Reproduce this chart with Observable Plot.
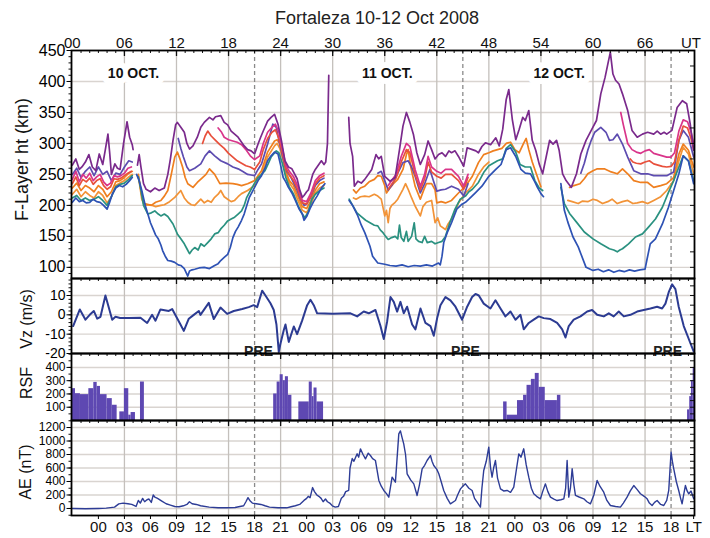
<!DOCTYPE html>
<html><head><meta charset="utf-8">
<script src="https://cdn.jsdelivr.net/npm/d3@7"></script>
<script src="https://cdn.jsdelivr.net/npm/@observablehq/plot@0.6"></script>
<style>
body{margin:0;background:#fff;}
#chart{position:relative;width:710px;height:538px;overflow:hidden;}
#chart svg{position:absolute;left:0;display:block;overflow:visible;}
</style></head><body><div id="chart"></div>
<script>
// ---------------- DATA ----------------
const title = "Fortaleza 10-12 Oct 2008";
const utTicks = [0,6,12,18,24,30,36,42,48,54,60,66,71.3];
const utLabels = ["00","06","12","18","24","30","36","42","48","54","60","66","UT"];
const ltTicks = [3,6,9,12,15,18,21,24,27,30,33,36,39,42,45,48,51,54,57,60,63,66,69,71.6];
const ltLabels = ["00","03","06","09","12","15","18","21","00","03","06","09","12","15","18","21","00","03","06","09","12","15","18","LT"];
const gridHours = [6,12,18,24,30,36,42,48,54,60,66];
const dashHours = [21,45,69];
const preHours = [21.45,45.3,68.6];
const preLabel = "PRE";
const dayLabels = ["10 OCT.","11 OCT.","12 OCT."];
const dayLabelHours = [7.05,36.3,56.1];

const fTicks = [100,150,200,250,300,350,400,450];
const vzTicks = [-20,-10,0,10];
const rsfTicks = [100,200,300,400];
const aeTicks = [0,200,400,600,800,1000,1200];

// F-layer iso-frequency heights (UT hour, km); null = gap
const purple = [[0,265],[0.4,275],[0.8,258],[1.1,262],[1.5,270],[1.9,282],[2.3,262],[2.7,256],[3.1,283],[3.5,266],[3.8,290],[4.1,315],[4.3,285],[4.5,250],[4.9,267],[5.2,260],[5.5,258],[5.9,300],[6.3,335],[6.6,310],[6.9,298],[7.0,290],[7.2,null],
 [7.5,265],[7.7,282],[7.9,262],[8.2,235],[8.5,226],[9.0,222],[9.5,228],[10.0,224],[10.6,228],[11.0,250],[11.3,275],[11.6,305],[11.9,330],[12.1,334],[12.5,326],[12.9,318],[13.2,300],[13.5,291],[13.9,296],[14.4,310],[14.8,326],[15.2,334],[15.8,342],[16.2,338],[16.5,343],[17.1,345],[17.5,334],[17.9,330],[18.3,320],[18.7,315],[19.1,310],[19.5,302],[19.8,296],[20.2,290],[20.6,288],[21.0,283],[21.4,299],[21.7,310],[22.0,320],[22.5,336],[22.9,342],[23.3,347],[23.7,331],[24.1,304],[24.5,272],[24.9,262],[25.3,259],[25.9,243],[26.2,225],[26.5,213],[26.7,216],[27.0,222],[27.2,225],[27.5,240],[27.7,250],[28.0,258],[28.2,262],[28.5,268],[28.7,272],[29.0,266],[29.2,270],[29.4,300],[29.55,410],[29.6,null],
 [31.85,342],[32.0,300],[32.3,279],[32.5,231],[32.9,239],[33.3,236],[33.7,242],[34.1,250],[34.5,258],[35.0,282],[35.3,275],[35.6,279],[36.0,247],[36.6,239],[37.2,245],[37.7,290],[38.1,328],[38.5,350],[38.9,334],[39.3,315],[39.7,285],[40.1,266],[40.6,282],[41.0,304],[41.4,290],[41.8,275],[42.2,282],[42.6,285],[43.0,279],[43.4,288],[43.7,285],[44.1,288],[44.5,279],[45.1,263],[45.5,293],[46.1,290],[46.5,288],[46.8,285],[47.2,295],[47.6,301],[48.2,298],[48.8,309],[49.2,296],[49.6,323],[50.0,371],[50.3,387],[50.7,339],[51.1,306],[51.5,323],[51.9,342],[52.2,337],[52.6,353],[53.0,305],[53.4,289],[53.8,267],[54.2,251],[54.6,278],[55.0,305],[55.4,299],[55.8,305],[56.1,289],[56.5,251],[56.9,240],[57.5,229],[58.1,251],[58.6,283],[59.2,305],[59.8,321],[60.4,337],[60.9,380],[61.4,407],[61.8,434],[62.0,447],[62.3,412],[62.6,402],[63.0,396],[63.4,380],[64.0,353],[64.5,321],[65.1,310],[65.7,315],[66.3,318],[67.0,315],[67.4,320],[67.8,315],[68.2,318],[68.5,315],[69.1,321],[69.7,358],[70.3,369],[70.8,364],[71.2,332],[71.6,289]];

const pink = [[0,242],[0.4,255],[0.8,238],[1.2,250],[1.6,244],[2.0,252],[2.4,240],[2.8,246],[3.2,250],[3.6,238],[4.0,232],[4.4,236],[4.8,248],[5.2,246],[5.6,248],[6.0,252],[6.4,260],[6.8,262],[7.0,null],
 [16.8,325],[17.2,318],[17.5,310],[18.0,306],[18.5,304],[19.0,302],[19.5,298],[20.0,290],[20.5,280],[21.0,274],[21.6,280],[22.0,300],[22.5,318],[23.0,326],[23.4,331],[23.8,318],[24.2,292],[24.6,265],[25.0,255],[25.5,246],[26.0,230],[26.5,208],[27.0,206],[27.5,220],[28.0,240],[28.5,248],[29.0,252],[29.3,null],
 [36.4,232],[36.8,240],[37.3,250],[37.9,279],[38.5,300],[38.9,295],[39.5,258],[40.1,231],[40.6,250],[41.0,279],[41.4,262],[42.0,255],[42.5,252],[43.0,258],[43.7,258],[44.5,247],[45.1,231],[45.6,250],[46.0,null],
 [63.2,350],[63.5,330],[64.0,300],[64.5,290],[65.0,286],[65.5,284],[66.0,288],[66.5,290],[67.0,284],[67.5,282],[68.0,280],[68.5,278],[69.0,278],[69.4,285],[69.9,320],[70.4,338],[70.9,335],[71.3,318],[71.6,300]];

const red = [[0,235],[0.4,246],[0.8,232],[1.2,242],[1.6,238],[2.0,244],[2.4,234],[2.8,240],[3.2,243],[3.6,232],[4.0,226],[4.4,230],[4.8,243],[5.2,242],[5.6,244],[6.0,248],[6.4,252],[6.8,255],[7.0,null],
 [15.0,300],[15.3,312],[15.6,320],[16.0,312],[16.5,305],[17.0,298],[17.5,292],[18.0,284],[18.5,278],[19.0,272],[19.5,268],[20.0,264],[20.5,262],[21.0,258],[21.6,270],[22.0,290],[22.5,308],[23.0,318],[23.4,322],[23.8,308],[24.2,285],[24.6,260],[25.0,250],[25.5,240],[26.0,225],[26.5,204],[27.0,202],[27.5,215],[28.0,235],[28.5,244],[29.0,248],[29.3,null],
 [36.4,226],[36.8,234],[37.3,244],[37.9,270],[38.5,290],[38.9,285],[39.5,250],[40.1,225],[40.6,243],[41.0,270],[41.4,254],[42.0,247],[42.5,244],[43.0,250],[43.7,250],[44.5,240],[45.1,226],[45.6,245],[46.0,null],
 [64.3,275],[64.6,270],[65.0,268],[65.5,267],[66.0,270],[66.5,272],[67.0,267],[67.5,265],[68.0,263],[68.5,262],[69.0,263],[69.4,270],[69.9,305],[70.4,328],[70.9,325],[71.3,308],[71.6,290]];

const violet = [[0,250],[0.5,260],[1.0,245],[1.5,255],[2.0,262],[2.5,248],[3.0,262],[3.5,250],[4.0,255],[4.5,240],[5.0,252],[5.5,250],[6.0,262],[6.5,272],[6.9,270],[7.0,null],
 [12.2,308],[12.5,292],[12.8,278],[13.2,262],[13.5,256],[14.1,260],[14.8,267],[15.3,280],[15.8,288],[16.4,280],[17.1,272],[17.9,267],[18.5,262],[19.1,259],[19.6,255],[20.2,250],[20.6,249],[21.0,248],[21.4,258],[21.8,267],[22.5,299],[23.1,331],[23.5,326],[23.9,299],[24.3,275],[24.7,255],[25.2,245],[25.8,228],[26.3,210],[26.7,200],[27.0,202],[27.5,214],[28.0,232],[28.5,240],[29.0,244],[29.3,null],
 [35.2,252],[35.6,255],[36.0,240],[36.4,225],[36.8,232],[37.5,252],[38.1,269],[38.7,272],[39.1,262],[39.5,247],[40.1,220],[40.6,235],[41.2,258],[41.6,240],[42.0,223],[42.5,225],[43.0,226],[43.7,231],[44.5,226],[45.1,215],[45.6,235],[46.0,null],
 [58.6,252],[59.0,268],[59.4,289],[59.8,305],[60.2,318],[60.9,326],[61.5,318],[61.9,305],[62.3,306],[62.8,315],[63.4,299],[64.0,278],[64.7,256],[65.5,251],[66.3,251],[67.0,248],[67.8,248],[68.5,248],[69.3,254],[69.9,305],[70.4,321],[71.0,310],[71.6,278]];

const orange1 = [[0,228],[0.5,236],[1.0,224],[1.5,232],[2.0,228],[2.5,222],[3.0,232],[3.5,226],[4.0,214],[4.5,222],[5.0,238],[5.5,240],[6.0,245],[6.5,252],[6.9,255],[7.0,null],
 [7.6,250],[8.0,215],[8.3,203],[9.1,200],[9.6,205],[10.2,208],[10.6,215],[11.0,224],[11.4,250],[11.8,278],[12.1,286],[12.4,275],[12.7,262],[13.0,245],[13.3,235],[13.9,229],[14.4,237],[15.0,245],[15.4,250],[15.8,259],[16.4,250],[17.0,235],[17.7,236],[18.5,235],[19.0,234],[19.5,232],[20.2,235],[21.0,240],[21.8,256],[22.5,286],[23.3,304],[23.6,306],[23.9,300],[24.3,280],[24.6,255],[25.0,240],[25.5,232],[26.0,215],[26.5,198],[27.0,195],[27.5,208],[28.0,225],[28.5,235],[29.0,238],[29.3,null],
 [32.4,225],[32.7,220],[33.2,228],[33.7,231],[34.2,238],[34.8,242],[35.2,248],[35.6,247],[36.0,232],[36.2,220],[36.6,228],[37.0,235],[37.5,242],[38.1,258],[38.5,282],[38.7,290],[39.0,262],[39.5,231],[40.1,210],[40.5,225],[40.8,235],[41.4,235],[41.8,225],[42.0,204],[42.5,206],[43.0,204],[43.7,208],[44.5,220],[45.3,231],[46.1,247],[46.8,269],[47.4,282],[48.0,285],[48.5,288],[49.0,290],[49.5,292],[50.0,300],[50.5,302],[51.0,290],[51.5,285],[52.0,300],[52.3,308],[52.6,290],[53.0,270],[53.5,250],[54.0,230],[54.3,null],
 [57.3,229],[57.8,232],[58.5,235],[59.0,243],[59.4,251],[60.0,256],[60.5,259],[61.3,259],[62.1,254],[62.8,251],[63.4,259],[64.0,251],[64.7,240],[65.5,237],[66.3,237],[67.0,229],[67.8,232],[68.5,235],[69.3,245],[69.9,283],[70.4,299],[71.0,289],[71.6,262]];

const orange2 = [[0,218],[0.5,226],[1.0,214],[1.5,222],[2.0,216],[2.5,212],[3.0,222],[3.5,216],[4.0,204],[4.5,214],[5.0,232],[5.5,236],[6.0,240],[6.5,246],[6.9,250],[7.0,null],
 [7.6,248],[8.0,210],[8.3,200],[9.0,201],[9.6,198],[10.2,200],[10.6,201],[11.2,206],[11.8,213],[12.5,224],[12.9,212],[13.3,205],[13.7,201],[14.1,200],[14.8,210],[15.2,204],[15.6,208],[16.0,205],[16.4,213],[16.8,218],[17.1,224],[17.5,214],[17.9,210],[18.3,206],[18.7,208],[19.1,214],[19.5,219],[20.2,224],[20.6,228],[21.0,232],[21.8,250],[22.5,278],[23.3,296],[23.6,300],[23.9,292],[24.3,272],[24.6,250],[25.0,236],[25.5,226],[26.0,208],[26.5,192],[27.0,188],[27.5,202],[28.0,220],[28.5,228],[29.0,232],[29.3,null],
 [32.4,212],[32.7,210],[33.2,214],[33.7,215],[34.2,214],[34.8,218],[35.2,215],[35.6,210],[36.0,183],[36.2,192],[36.4,172],[36.6,195],[36.8,200],[37.2,205],[37.5,210],[38.1,226],[38.4,235],[38.7,226],[39.1,212],[39.5,199],[40.1,183],[40.4,198],[40.8,205],[41.4,208],[41.8,172],[42.1,180],[42.4,167],[43.0,161],[43.3,170],[43.7,178],[44.1,190],[44.5,204],[45.3,220],[46.1,231],[46.8,250],[47.4,262],[48.0,270],[48.4,null],
 [57.1,208],[57.6,206],[58.3,203],[58.8,207],[59.4,206],[60.0,210],[60.5,208],[61.1,203],[61.7,206],[62.2,210],[62.8,203],[63.4,206],[64.0,208],[64.6,203],[65.1,204],[65.7,206],[66.3,203],[67.0,208],[67.8,214],[68.5,224],[69.3,240],[69.9,272],[70.4,294],[71.0,283],[71.6,251]];

const teal = [[0,212],[0.5,216],[1.0,208],[1.5,212],[2.0,208],[2.5,210],[3.0,214],[3.5,208],[4.0,200],[4.5,214],[5.0,230],[5.5,234],[6.0,236],[6.5,242],[6.9,248],[7.0,null],
 [7.6,246],[7.9,225],[8.2,200],[8.7,186],[9.1,188],[9.5,191],[9.9,186],[10.2,183],[10.6,186],[11.0,182],[11.6,170],[12.1,154],[12.5,146],[12.9,138],[13.2,130],[13.5,122],[13.8,128],[14.1,132],[14.5,128],[14.8,138],[15.2,134],[15.6,140],[16.0,146],[16.4,154],[16.8,156],[17.1,162],[17.5,168],[17.9,175],[18.3,178],[18.7,181],[19.1,186],[19.5,191],[19.8,200],[20.1,213],[20.6,226],[21.0,236],[21.4,245],[21.8,250],[22.2,256],[22.6,268],[22.9,278],[23.5,288],[23.8,285],[24.2,268],[24.6,245],[25.0,230],[25.5,218],[26.0,200],[26.5,186],[26.8,180],[27.2,190],[27.6,210],[28.0,218],[28.5,224],[29.0,228],[29.3,null],
 [31.9,210],[32.3,200],[32.8,188],[33.3,182],[33.8,176],[34.3,172],[34.8,168],[35.2,167],[35.5,160],[35.8,156],[36.1,150],[36.4,145],[36.8,148],[37.2,150],[37.5,146],[37.7,168],[37.9,148],[38.2,142],[38.5,158],[38.7,142],[39.1,150],[39.4,172],[39.6,146],[39.9,142],[40.3,140],[40.6,150],[40.9,140],[41.4,142],[41.8,138],[42.2,140],[42.6,142],[43.0,150],[43.5,172],[44.1,194],[44.7,210],[45.3,215],[45.7,222],[46.1,226],[46.8,237],[47.4,253],[48.0,264],[48.5,268],[49.0,272],[49.6,275],[50.0,292],[50.5,298],[51.1,286],[51.6,266],[52.2,262],[52.8,262],[53.3,240],[53.8,228],[54.2,224],[54.4,null],
 [56.3,229],[56.7,203],[57.3,187],[58.1,173],[59.0,157],[60.0,146],[60.9,138],[61.4,134],[61.9,130],[62.4,128],[62.8,125],[63.1,128],[63.4,130],[64.1,138],[64.9,149],[65.7,154],[66.4,165],[67.2,178],[68.0,197],[68.7,221],[69.3,240],[69.9,262],[70.4,280],[71.0,272],[71.6,240]];

const blue = [[0,205],[0.4,212],[0.8,206],[1.2,208],[1.6,204],[2.0,205],[2.4,210],[2.8,206],[3.2,205],[3.6,200],[4.0,194],[4.3,205],[4.6,218],[5.0,228],[5.4,232],[5.8,230],[6.2,234],[6.6,240],[6.9,245],[7.0,null],
 [7.4,250],[7.7,240],[8.0,224],[8.4,200],[8.7,186],[9.0,172],[9.3,162],[9.6,152],[9.9,146],[10.2,136],[10.4,127],[10.7,118],[11.0,111],[11.4,110],[11.8,108],[12.2,104],[12.5,103],[12.9,98],[13.1,92],[13.3,86],[13.5,94],[13.8,96],[14.1,97],[14.6,99],[15.2,100],[15.8,98],[16.4,103],[16.8,106],[17.1,111],[17.5,116],[17.9,121],[18.2,132],[18.5,148],[18.8,158],[19.1,165],[19.5,176],[19.8,186],[20.1,200],[20.4,213],[21.0,229],[21.4,240],[21.8,248],[22.2,260],[22.5,272],[22.9,280],[23.3,286],[23.7,283],[24.0,265],[24.3,245],[24.6,238],[24.9,229],[25.3,220],[25.7,208],[26.1,195],[26.5,186],[26.7,176],[27.0,182],[27.4,195],[27.8,206],[28.2,215],[28.7,228],[29.1,235],[29.3,null],
 [31.9,208],[32.3,200],[32.9,183],[33.3,168],[33.7,156],[34.3,134],[34.6,118],[35.2,107],[36.0,105],[36.6,103],[37.3,102],[38.0,104],[38.7,101],[39.4,103],[40.1,102],[40.8,104],[41.5,102],[42.2,107],[42.4,104],[42.6,118],[42.8,140],[43.2,156],[43.7,172],[44.3,194],[44.9,202],[45.3,205],[45.7,210],[46.5,221],[47.2,231],[48.0,247],[48.8,258],[49.4,266],[50.0,290],[50.5,293],[51.1,279],[51.7,258],[52.2,252],[52.8,251],[53.3,238],[53.6,229],[54.0,219],[54.3,214],[54.5,null],
 [56.3,235],[56.7,192],[57.1,173],[57.7,149],[58.3,133],[58.6,122],[59.2,100],[60.0,95],[60.6,97],[61.2,93],[61.8,96],[62.4,92],[63.0,95],[63.6,93],[64.2,96],[64.8,94],[65.4,96],[66.0,97],[66.2,111],[66.6,138],[67.2,146],[68.0,170],[68.7,197],[69.3,224],[69.9,251],[70.4,280],[71.0,272],[71.6,235]];

// Vertical drift Vz (UT hour, m/s)
const vz = [[0.09,-5.8],[0.86,2.8],[1.51,-2.5],[2.0,0],[2.47,2],[2.86,-2],[3.24,-1],[3.81,10],[4.59,-2.5],[4.97,-1],[5.5,-1.6],[6.5,-1.6],[7.85,-1.5],[8.62,-4.2],[9.19,0],[9.58,-3],[10.15,2.8],[11.11,2],[11.5,3],[12.46,-5],[12.84,-8.3],[13.42,-2],[13.99,0],[14.57,2],[14.76,0],[15.72,6.2],[16.3,-2.2],[17.07,3.8],[17.84,0.5],[18.6,2],[19.57,3],[20.33,4],[20.9,5],[21.3,4],[21.87,12.5],[22.25,10],[22.83,6],[23.21,2.5],[23.52,-5],[23.79,-19.2],[23.98,-15],[24.36,-8],[24.56,-5],[24.94,-14],[25.52,-6],[25.9,-10],[26.48,-3],[27.06,5],[27.44,7.8],[27.82,5],[28.21,0.8],[30,0.6],[32.05,0.8],[32.82,-0.8],[33.58,1.7],[34.16,0.8],[34.93,2.5],[35.51,-5.8],[35.89,-12.5],[36.28,-3.3],[36.66,9.2],[37.04,6.7],[37.43,1.7],[37.81,6.7],[38.19,0.8],[38.58,4.2],[39.16,-5],[39.54,-7.5],[40.12,3.3],[40.69,-4.2],[41.27,-5.8],[41.65,-10.8],[42.04,-1.7],[42.42,5],[43.0,9.2],[43.57,7.5],[44.15,4.2],[44.92,-2.5],[45.5,4.2],[46.07,9.2],[46.46,10.8],[46.84,10],[47.41,5.8],[48.18,3.3],[48.76,7.5],[49.34,3.3],[49.91,-0.8],[50.49,1.7],[51.07,-2.5],[51.64,0],[52.02,-7.5],[52.6,-4.2],[53.17,-2.5],[53.75,-0.8],[54.33,-1.7],[55.1,-2.2],[55.87,-4.2],[56.45,-7.5],[56.83,-11.7],[57.21,-5.8],[57.78,-2.5],[58.56,-0.8],[59.33,1.7],[59.9,2.5],[60.48,0],[61.24,-0.8],[61.82,0.8],[62.39,-0.8],[62.97,1.7],[63.55,-0.8],[64.32,0],[65.09,1.7],[65.85,2.5],[66.62,3.3],[67.39,4.2],[67.97,3.3],[68.35,5.8],[68.73,11.7],[69.12,15.8],[69.5,13.3],[69.88,4.2],[70.46,-5.8],[71.04,-12.5],[71.61,-19]];

// RSF occurrence histogram (bin start UT, bin end UT, value)
const rsfStart = [0,0.36,0.93,1.9,2.47,2.86,3.24,4.0,4.6,5.47,6.0,6.5,6.77,7.85, 23.2,23.6,23.95,24.3,24.55,24.9, 26.1,27.3,27.65,27.85,28.2, 49.7,50.1,51.3,52.0,52.4,52.9,53.35,53.8,54.5,55.9, 70.9,71.15,71.35,71.55];
const rsfEnd   = [0.36,0.93,1.9,2.47,2.86,3.24,4.0,4.6,5.16,6.0,6.5,6.77,7.27,8.3, 23.6,23.95,24.3,24.55,24.9,25.3, 27.3,27.65,27.85,28.2,28.95, 50.1,51.3,52.0,52.4,52.9,53.35,53.8,54.5,55.9,56.3, 71.15,71.35,71.55,71.7];
const rsfValue = [240,202,195,240,287,257,195,165,115,65,240,40,60,290, 200,290,345,300,330,190, 140,290,180,245,140, 140,40,150,190,265,310,355,250,150,190, 80,180,300,400];

// AE index (UT hour, nT)
const ae = [[0,0],[1.5,-5],[3,0],[3.9,5],[4.86,20],[5.35,69],[5.85,80],[6.4,70],[6.84,60],[7.34,30],[7.6,120],[7.83,80],[8.1,150],[8.33,100],[8.6,130],[8.83,140],[9.1,90],[9.32,200],[9.5,170],[9.82,150],[10.31,110],[10.81,70],[11.3,50],[11.8,30],[12.3,25],[12.8,40],[13.2,60],[13.49,100],[13.8,70],[14.28,60],[14.78,40],[15.77,20],[16.8,10],[17.76,10],[18.75,15],[19.74,40],[20.0,100],[20.24,160],[20.5,110],[20.74,80],[21.2,70],[21.73,60],[22.2,40],[22.72,20],[23.71,10],[24.7,10],[25.2,25],[25.7,40],[26.2,60],[26.69,120],[27.0,150],[27.18,180],[27.4,160],[27.68,310],[27.9,250],[28.18,200],[28.4,180],[28.67,150],[28.9,100],[29.17,140],[29.4,100],[29.66,80],[29.96,40],[30.3,20],[30.66,30],[31.0,150],[31.25,180],[31.5,250],[31.85,270],[32.0,600],[32.25,740],[32.45,700],[32.82,810],[33.0,760],[33.2,884],[33.5,800],[33.78,736],[34.1,820],[34.35,785],[34.6,740],[34.93,711],[35.32,415],[35.6,330],[35.89,267],[36.2,220],[36.47,168],[36.85,464],[37.23,390],[37.62,1106],[37.81,1150],[38.0,1050],[38.19,958],[38.4,800],[38.58,514],[39.0,420],[39.35,365],[39.73,193],[40.0,350],[40.31,588],[40.6,640],[40.88,711],[41.27,785],[41.45,700],[41.65,637],[42.0,580],[42.23,514],[42.5,400],[42.8,267],[43.2,150],[43.57,69],[44.15,118],[44.4,200],[44.73,291],[45.0,330],[45.3,365],[45.7,300],[46.07,267],[46.35,150],[46.65,94],[47.03,20],[47.2,300],[47.41,563],[47.7,700],[47.99,909],[48.2,600],[48.37,464],[48.55,600],[48.76,711],[49.0,450],[49.34,291],[49.7,260],[50.1,267],[50.5,240],[50.87,316],[51.2,600],[51.45,810],[51.7,760],[52.02,884],[52.3,650],[52.6,464],[52.9,300],[53.17,218],[53.5,180],[53.94,143],[54.2,250],[54.52,365],[54.8,250],[55.1,168],[55.5,140],[55.87,118],[56.3,130],[56.64,143],[56.85,300],[57.02,711],[57.21,168],[57.4,300],[57.6,588],[57.8,350],[57.98,193],[58.4,170],[58.94,143],[59.3,100],[59.71,69],[60.1,200],[60.48,415],[60.8,330],[61.24,242],[61.6,120],[62.01,44],[62.6,30],[63.16,20],[63.5,80],[63.93,168],[64.3,260],[64.7,340],[65.1,280],[65.47,218],[65.9,180],[66.24,143],[66.5,80],[66.81,44],[67.1,90],[67.39,118],[67.8,60],[68.16,44],[68.5,120],[68.73,267],[69.0,835],[69.15,700],[69.31,588],[69.6,400],[69.88,267],[70.1,150],[70.27,69],[70.45,200],[70.65,340],[70.85,260],[71.04,218],[71.3,260],[71.61,143]];

// ---------------- CHART ----------------
const W = 710, ML = 71, MR = 16;
const innerW = W - ML - MR;
const xDomain = [-0.1, 71.7];
const hourTicks = d3.range(1, 72);
const majorHours = [6,12,18,24,30,36,42,48,54,60,66];
const font = "Liberation Sans, Arial, Helvetica, sans-serif";
const utLabelOf = new Map(utTicks.map((t, i) => [t, utLabels[i]]));
const ltLabelOf = new Map(ltTicks.map((t, i) => [t, ltLabels[i]]));

function gridMarks(yGrid) {
  return [
    Plot.ruleY(yGrid, {stroke: "#d9d4d0", strokeWidth: 1.4}),
    Plot.ruleX(gridHours, {stroke: "#c4c0bc", strokeWidth: 1.3}),
    Plot.ruleX(dashHours, {stroke: "#8a8a8a", strokeWidth: 1.3, strokeDasharray: "4,3"})
  ];
}
function frameMarks(innerH, yTicks, yMinor, yRight, fontSize) {
  return [
    Plot.tickX(hourTicks, {x: d => d, insetBottom: innerH - 3, stroke: "#111", strokeWidth: 1}),
    Plot.tickX(majorHours, {x: d => d, insetBottom: innerH - 6, stroke: "#111", strokeWidth: 1.3}),
    Plot.tickY(yRight, {y: d => d, insetLeft: innerW - 4, stroke: "#111", strokeWidth: 1}),
    Plot.axisY({ticks: yMinor, tickSize: 2.5, tickFormat: () => "", label: null, stroke: "#111"}),
    Plot.axisY({ticks: yTicks, tickSize: 4.5, tickPadding: 1.5, fontSize, tickFormat: d => String(d), label: null, fill: "#000"}),
    Plot.frame({stroke: "#000", strokeWidth: 1.8})
  ];
}
function yTitle(text, size, dx, dy) {
  return Plot.text([text], {frameAnchor: "left", text: d => d, rotate: -90, textAnchor: "middle", lineAnchor: "middle", dx, dy, fontSize: size, fill: "#111"});
}
const lineSpecs = [
  [orange2, "#f29337"], [orange1, "#ef7f1f"], [teal, "#2a9180"], [blue, "#2e52b4"],
  [violet, "#5d4cb0"], [red, "#e8503c"], [pink, "#d9358a"], [purple, "#7a2a8c"]
];
const baseOpts = {width: W, marginLeft: ML, marginRight: MR, style: {fontFamily: font, background: "transparent", overflow: "visible"}};

const chart = document.getElementById("chart");
function place(svg, top) { svg.style.top = top + "px"; chart.appendChild(svg); }

// Panel 1: F-layer heights
const p1H = 278, p1MT = 50;
place(Plot.plot({
  ...baseOpts, height: p1H, marginTop: p1MT, marginBottom: 0,
  x: {domain: xDomain, axis: null},
  y: {domain: [82, 450], axis: null},
  marks: [
    ...gridMarks([100,150,200,250,300,350,400]),
    ...lineSpecs.map(([pts, c]) => Plot.line(pts, {x: d => d[0], y: d => d[1], stroke: c, strokeWidth: 1.7})),
    Plot.text(dayLabels, {x: (d, i) => dayLabelHours[i], frameAnchor: "top", dy: 23, text: d => d, fontSize: 14, fontWeight: "bold", fill: "#111", stroke: "white", strokeWidth: 12, paintOrder: "stroke", lineAnchor: "middle"}),
    ...frameMarks(p1H - p1MT, fTicks, d3.range(90, 451, 10), d3.range(100, 450, 25), 16),
    Plot.axisX({anchor: "top", ticks: utTicks, tickFormat: d => utLabelOf.get(d), tickSize: 0, tickPadding: 3, fontSize: 15, fill: "#111", label: null}),
    yTitle("F-Layer ht (km)", 18, -49, -5),
    Plot.text([title], {frameAnchor: "top", text: d => d, dy: -32, dx: -6, lineAnchor: "middle", fontSize: 18, fill: "#222"})
  ]
}), 0);

// Panel 2: Vz
const p2H = 75;
place(Plot.plot({
  ...baseOpts, height: p2H, marginTop: 0, marginBottom: 0,
  x: {domain: xDomain, axis: null},
  y: {domain: [-20, 18.8], axis: null},
  marks: [
    ...gridMarks([-10, 0, 10]),
    Plot.line(vz, {x: d => d[0], y: d => d[1], stroke: "#2c3b92", strokeWidth: 2}),
    Plot.text(preHours, {x: d => d, frameAnchor: "bottom", text: () => preLabel, fontSize: 14, fontWeight: "bold", fill: "#222", dy: 2}),
    ...frameMarks(p2H, vzTicks, d3.range(-18, 19, 2), d3.range(-15, 18, 5), 14),
    yTitle("Vz (m/s)", 16, -45, 3)
  ]
}), 278);

// Panel 3: RSF
const p3H = 67;
place(Plot.plot({
  ...baseOpts, height: p3H, marginTop: 0, marginBottom: 0,
  x: {domain: xDomain, axis: null},
  y: {domain: [0, 505], axis: null},
  marks: [
    ...gridMarks(rsfTicks),
    Plot.rect(rsfValue, {x1: (d, i) => rsfStart[i], x2: (d, i) => rsfEnd[i], y1: 0, y2: d => d, fill: "#5e48b2"}),
    ...frameMarks(p3H, rsfTicks, d3.range(50, 501, 50), d3.range(50, 501, 50), 12),
    yTitle("RSF", 16, -45, -4)
  ]
}), 353);

// Panel 4: AE
const p4H = 118, p4MB = 23;
place(Plot.plot({
  ...baseOpts, height: p4H, marginTop: 0, marginBottom: p4MB,
  x: {domain: xDomain, axis: null},
  y: {domain: [-104, 1304], axis: null},
  marks: [
    ...gridMarks(aeTicks),
    Plot.line(ae, {x: d => d[0], y: d => d[1], stroke: "#2d3c96", strokeWidth: 1.4}),
    ...frameMarks(p4H - p4MB, aeTicks, d3.range(-100, 1301, 100), d3.range(0, 1201, 100), 12),
    Plot.axisX({anchor: "bottom", ticks: ltTicks, tickFormat: d => ltLabelOf.get(d), tickSize: 4, tickPadding: 2, fontSize: 15, fill: "#111", label: null}),
    yTitle("AE (nT)", 16, -46, 4)
  ]
}), 420);
</script></body></html>
